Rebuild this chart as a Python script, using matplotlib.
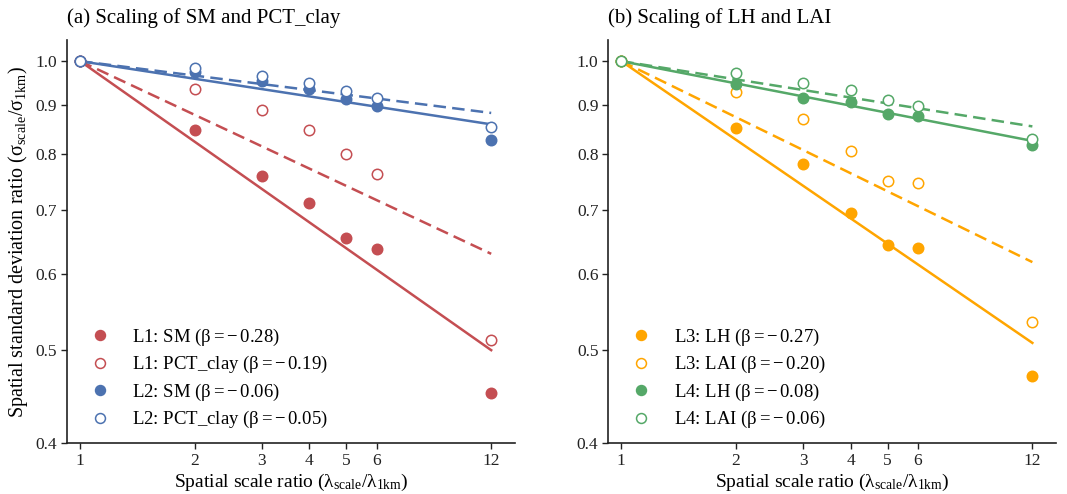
import matplotlib
matplotlib.use('Agg')
import matplotlib.pyplot as plt
from matplotlib.ticker import FixedLocator, NullLocator
import numpy as np

# Razones de escala
escalas = [1, 2, 3, 4, 5, 6, 12]

# Panel (a): SM y PCT_clay
l1_sm = [1.0, 0.847, 0.760, 0.711, 0.654, 0.637, 0.451]
l1_clay = [1.0, 0.935, 0.890, 0.848, 0.801, 0.762, 0.512]
l2_sm = [1.0, 0.974, 0.953, 0.936, 0.914, 0.897, 0.828]
l2_clay = [1.0, 0.983, 0.966, 0.949, 0.930, 0.916, 0.854]

# Panel (b): LH y LAI
l3_lh = [1.0, 0.852, 0.781, 0.695, 0.644, 0.639, 0.470]
l3_lai = [1.0, 0.928, 0.871, 0.806, 0.751, 0.747, 0.535]
l4_lh = [1.0, 0.947, 0.915, 0.907, 0.881, 0.876, 0.817]
l4_lai = [1.0, 0.973, 0.949, 0.934, 0.910, 0.897, 0.829]

# Pendientes ajustadas (log-log) y valores de beta en la leyenda
pend_a = [-0.279, -0.186, -0.061, -0.050]
pend_b = [-0.272, -0.194, -0.077, -0.063]
beta_a = ['0.28', '0.19', '0.06', '0.05']
beta_b = ['0.27', '0.20', '0.08', '0.06']

etiquetas_a = ['L1: SM', 'L1: PCT_clay', 'L2: SM', 'L2: PCT_clay']
etiquetas_b = ['L3: LH', 'L3: LAI', 'L4: LH', 'L4: LAI']

rojo, azul = '#C44E52', '#4C72B0'
naranja, verde = '#FFA500', '#55A868'

yticks = [0.4, 0.5, 0.6, 0.7, 0.8, 0.9, 1.0]

plt.rcParams['font.family'] = 'Liberation Serif'
plt.rcParams['mathtext.fontset'] = 'custom'
plt.rcParams['mathtext.rm'] = 'Liberation Serif'
plt.rcParams['mathtext.it'] = 'Liberation Serif'
plt.rcParams['mathtext.bf'] = 'Liberation Serif:bold'
plt.rcParams['font.size'] = 12

fig = plt.figure(figsize=(10.67, 4.94), dpi=100)
ax1 = fig.add_axes([0.0628, 0.103, 0.420, 0.816])
ax2 = fig.add_axes([0.570, 0.103, 0.420, 0.816])


def dibujar(ax, series, pendientes, betas, etiquetas, colores, titulo):
    x = np.array(escalas, dtype=float)
    xl = np.linspace(1, 12, 100)
    for i, (y, p, b, et) in enumerate(zip(series, pendientes, betas, etiquetas)):
        c = colores[i // 2]
        lleno = (i % 2 == 0)
        ax.plot(xl, xl ** p, color=c, lw=1.8,
                ls='-' if lleno else (0, (5, 2.5)), zorder=2)
        ax.plot(x, y, 'o', ms=7.5, mew=1.1, color=c,
                mfc=c if lleno else 'white', mec=c, ls='none', zorder=3,
                label=et + r' ($\beta = -\,' + b + '$)')
    ax.set_xscale('log')
    ax.set_yscale('log')
    ax.set_xlim(0.924, 13.87)
    ax.set_ylim(0.4, 1.052)
    ax.xaxis.set_major_locator(FixedLocator(escalas))
    ax.xaxis.set_minor_locator(NullLocator())
    ax.set_xticklabels([str(v) for v in escalas])
    ax.yaxis.set_major_locator(FixedLocator(yticks))
    ax.yaxis.set_minor_locator(NullLocator())
    ax.set_yticklabels(['%.1f' % v for v in yticks])
    ax.tick_params(labelsize=12.5, length=4, width=1, colors='#222222', pad=3)
    for s in ['top', 'right']:
        ax.spines[s].set_visible(False)
    for s in ['left', 'bottom']:
        ax.spines[s].set_linewidth(1.2)
        ax.spines[s].set_color('#222222')
    ax.set_xlabel(r'Spatial scale ratio ($\lambda_{\rm scale}/\lambda_{\rm 1km}$)',
                  fontsize=14, labelpad=2)
    ax.text(0.0, 1.03, titulo, transform=ax.transAxes, fontsize=15,
            ha='left', va='bottom')
    ax.legend(loc='lower left', bbox_to_anchor=(0.01, -0.01), frameon=False,
              fontsize=13.5, handlelength=1.2, handletextpad=1.15,
              labelspacing=0.34, markerscale=0.95)


dibujar(ax1, [l1_sm, l1_clay, l2_sm, l2_clay], pend_a, beta_a, etiquetas_a,
        [rojo, azul], '(a) Scaling of SM and PCT_clay')
dibujar(ax2, [l3_lh, l3_lai, l4_lh, l4_lai], pend_b, beta_b, etiquetas_b,
        [naranja, verde], '(b) Scaling of LH and LAI')

ax1.set_ylabel(r'Spatial standard deviation ratio ($\sigma_{\rm scale}/\sigma_{\rm 1km}$)',
               fontsize=14.5, labelpad=4)

plt.savefig('out.png', dpi=100, facecolor='white')
plt.close()
